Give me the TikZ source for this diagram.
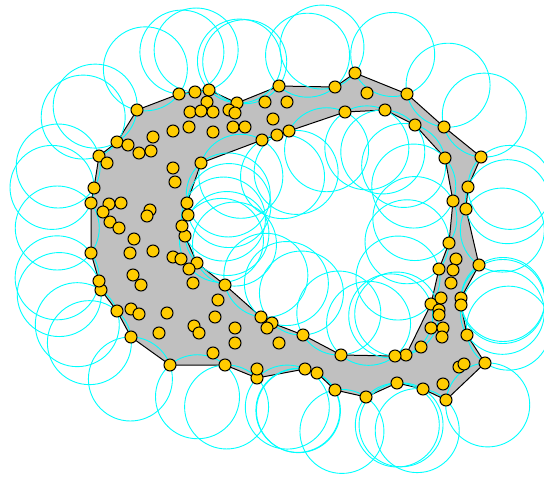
\documentclass[tikz,border=0pt]{standalone}
\usetikzlibrary{calc}
\definecolor{dotfill}{RGB}{255,204,0}
\definecolor{ringcol}{RGB}{0,255,255}
\definecolor{shapegray}{RGB}{192,192,192}
\def\ringr{42}
\newcommand\edgering[3]{%
  \draw[ring] let \p1=(#1), \p2=(#2), \n1={veclen(\x2-\x1,\y2-\y1)/2},
    \n2={sqrt(max(\ringr*\ringr-\n1*\n1,0))} in
    ($(#1)!0.5!(#2)!0pt+\n2!#3:(#2)$) circle[radius=\ringr pt];}
\begin{document}
\begin{tikzpicture}[x=1pt,y=-1pt,
  ring/.style={draw=ringcol,line width=0.9pt},
  outline/.style={draw=black,line width=1pt,fill=shapegray,even odd rule,line join=round},
  dotp/.style={circle,draw=black,fill=dotfill,line width=1pt,minimum size=12pt,inner sep=0pt}]
\useasboundingbox (0,0) rectangle (544,477);
% outer boundary (clockwise on page)
\foreach \x/\y [count=\i] in {137/110,179/94,195/92,209/90,237/103,279/86,335/87,355/73,
  407/94,444/127,481/157,468/187,466/209,479/265,461/298,461/305,467/335,485/363,
  446/400,423/389,397/383,366/397,335/390,317/373,305/369,257/378,225/365,170/365,
  131/337,117/311,101/290,99/281,91/253,91/203,94/188,99/156,117/142}
  \coordinate (o\i) at (\x,\y);
% inner boundary (clockwise on page)
\foreach \x/\y [count=\i] in {201/163,262/140,277/135,289/131,345/112,385/110,415/125,
  445/158,453/201,449/243,439/269,431/304,406/355,395/356,341/355,303/335,272/323,
  261/317,225/285,197/263,185/236,182/226,188/215,187/203}
  \coordinate (i\i) at (\x,\y);
% shape
\path[outline] (o1) \foreach \i in {2,...,37}{-- (o\i)} -- cycle
  (i1) \foreach \i in {2,...,24}{-- (i\i)} -- cycle;
% alpha circles
\foreach \i in {1,...,37}{\pgfmathtruncatemacro\j{mod(\i,37)+1}\edgering{o\i}{o\j}{90}}
\foreach \i in {1,...,24}{\pgfmathtruncatemacro\j{mod(\i,24)+1}\edgering{i\i}{i\j}{-90}}
% points
\foreach \i in {1,...,37} \node[dotp] (ob\i) at (o\i) {};
\foreach \i in {1,...,24} \node[dotp] (ib\i) at (i\i) {};
\foreach \x/\y [count=\k] in {207/102,190/112,201/111,213/112,189/127,173/131,213/132,
  153/137,128/145,139/153,151/151,107/163,173/168,175/182,109/204,121/203,103/212,
  110/222,119/228,150/210,147/216,134/239,130/253,153/251,173/257,181/259,189/269,
  193/283,133/275,141/285,131/309,139/314,167/313,159/333,194/326,199/333,213/353,
  218/300,215/317,235/328,235/343,267/328,279/343,257/369,367/93,229/110,235/113,
  233/127,245/127,265/102,287/102,273/119,456/259,453/270,451/283,441/298,439/310,
  439/315,431/328,443/328,442/337,421/347,459/367,464/364,443/384}
  \node[dotp] (p\k) at (\x,\y) {};
\end{tikzpicture}
\end{document}
